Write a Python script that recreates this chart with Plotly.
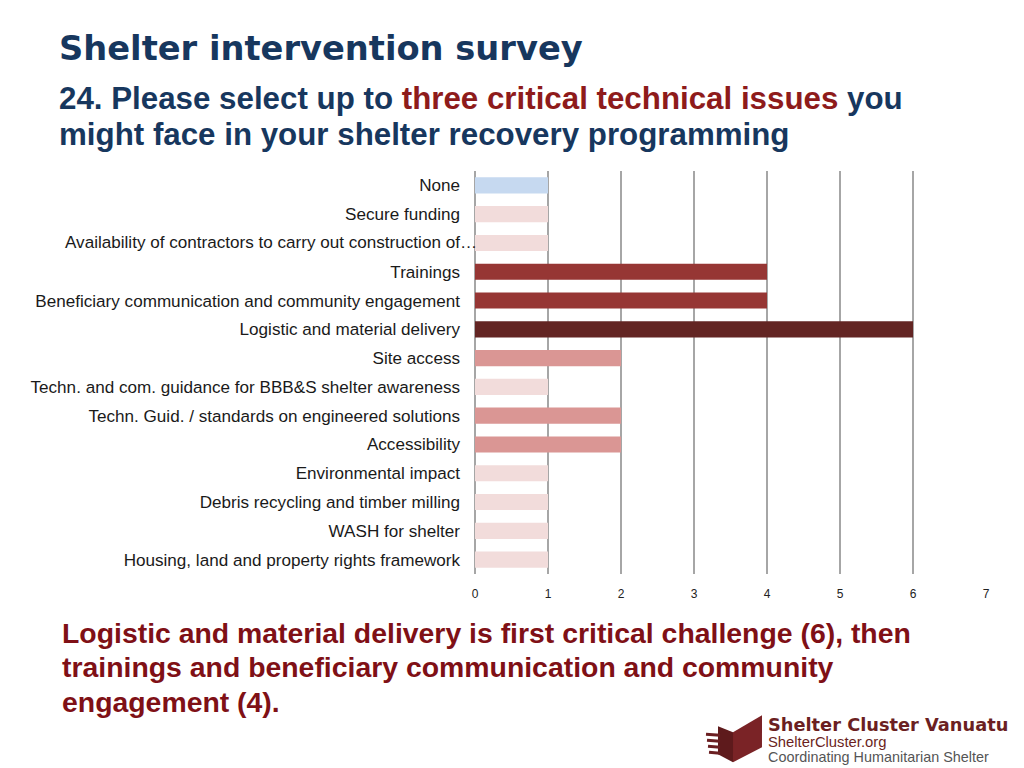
import plotly.graph_objects as go

categories = [
    "None",
    "Secure funding",
    "Availability of contractors to carry out construction of…",
    "Trainings",
    "Beneficiary communication and community engagement",
    "Logistic and material delivery",
    "Site access",
    "Techn. and com. guidance for BBB&S shelter awareness",
    "Techn. Guid. / standards on engineered solutions",
    "Accessibility",
    "Environmental impact",
    "Debris recycling and timber milling",
    "WASH for shelter",
    "Housing, land and property rights framework",
]
values = [1, 1, 1, 4, 4, 6, 2, 1, 2, 2, 1, 1, 1, 1]
bar_colors = ["#c6d9f0", "#f2dcdb", "#f2dcdb", "#963634", "#963634", "#632523",
              "#da9694", "#f2dcdb", "#da9694", "#da9694", "#f2dcdb", "#f2dcdb",
              "#f2dcdb", "#f2dcdb"]
tick_vals = [0, 1, 2, 3, 4, 5, 6, 7]

# plot area in screen pixels
L, R, T, B = 475, 986, 170.6, 574.4
W, H = 1024, 768


def px(x):
    return (x - L) / (R - L)


def py(y):
    return (B - y) / (B - T)


fig = go.Figure()
fig.add_trace(go.Bar(
    y=categories, x=values, orientation="h",
    marker=dict(color=bar_colors, line=dict(width=0)),
    width=0.56, hoverinfo="x+y",
))

annotations = []


def txt(text, x, y, size, color, family="Liberation Sans, Arial", anchor="left"):
    annotations.append(dict(
        text=text, x=px(x), y=py(y), xref="paper", yref="paper",
        xanchor=anchor, yanchor="middle", showarrow=False,
        font=dict(size=size, color=color, family=family),
    ))


navy = "#17375e"
txt("<b>Shelter intervention survey</b>", 57, 48, 33.7, navy, family="DejaVu Sans")
txt("<b>24. Please select up to <span style='color:#8e1b1b'>three critical technical issues</span> you</b>",
    57, 98, 31.3, navy)
txt("<b>might face in your shelter recovery programming</b>", 57, 134, 31.3, navy)

bred = "#7f1016"
txt("<b>Logistic and material delivery is first critical challenge (6), then</b>", 60, 634, 28.4, bred)
txt("<b>trainings and beneficiary communication and community</b>", 60, 668, 28.4, bred)
txt("<b>engagement (4).</b>", 60, 703, 28.4, bred)

# logo text
txt("<b>Shelter Cluster Vanuatu</b>", 766, 725, 17.8, "#6b1f22", family="DejaVu Sans")
txt("ShelterCluster.org", 766, 743, 14.8, "#6b1f22")
txt("Coordinating Humanitarian Shelter", 766, 757.5, 14.4, "#555555")

# the long (truncated) label overlaps the axis in the reference
label_font = dict(size=17.1, color="#1a1a1a", family="Liberation Sans, Arial")
annotations.append(dict(
    text=categories[2], x=px(479), y=categories[2], xref="paper", yref="y",
    xanchor="right", yanchor="middle", showarrow=False, font=label_font,
))
tick_text = ["" if i == 2 else c for i, c in enumerate(categories)]


def path(points):
    return "M " + " L ".join(f"{px(a):.4f},{py(b):.4f}" for a, b in points) + " Z"


shapes = [
    dict(type="path", xref="paper", yref="paper", line=dict(width=0),
         fillcolor="#7a2326",
         path=path([(733, 733), (762, 716), (762, 748), (733, 763)])),
    dict(type="path", xref="paper", yref="paper", line=dict(width=0),
         fillcolor="#5e1a1c",
         path=path([(718, 727), (733, 733), (733, 763), (718, 755)])),
]
for i, yy in enumerate([735, 741, 747, 753]):
    shapes.append(dict(type="line", xref="paper", yref="paper",
                       x0=px(706 + i), y0=py(yy), x1=px(720), y1=py(yy + 1),
                       line=dict(color="#6b1f22", width=3)))

fig.update_layout(
    width=W, height=H,
    margin=dict(l=L, r=W - R, t=T, b=H - B, pad=0),
    paper_bgcolor="white", plot_bgcolor="white",
    showlegend=False,
    xaxis=dict(range=[0, 7], tickvals=tick_vals, showgrid=True,
               gridcolor="#a6a6a6", gridwidth=1.5, zeroline=True,
               zerolinecolor="#a6a6a6", zerolinewidth=1.5,
               tickfont=dict(size=12, color="#222222", family="Liberation Sans, Arial"),
               ticks="", showline=False, fixedrange=True, ticklabelstandoff=11),
    yaxis=dict(categoryorder="array", categoryarray=categories,
               autorange="reversed",
               tickmode="array", tickvals=categories, ticktext=tick_text,
               tickfont=label_font,
               ticks="", showgrid=False, showline=False, ticklabelstandoff=14,
               fixedrange=True),
    annotations=annotations,
    shapes=shapes,
)

fig.write_html(
    "out.html",
    config={"displayModeBar": False},
    post_script="document.body.style.margin='0';document.body.style.overflow='hidden';",
)
